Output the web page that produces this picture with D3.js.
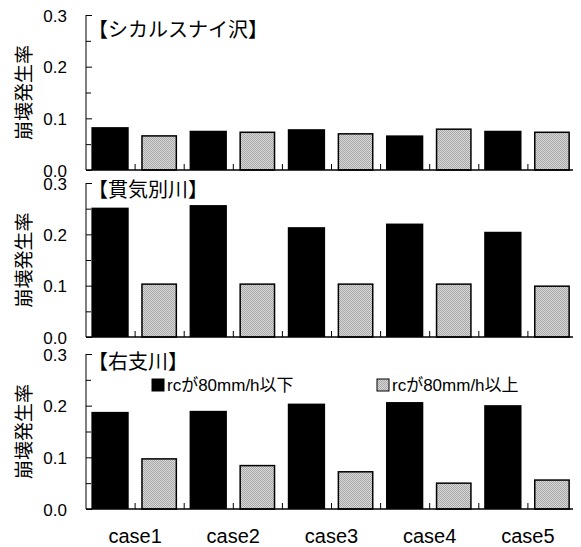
<!DOCTYPE html>
<html>
<head>
<meta charset="utf-8">
<script src="https://cdn.jsdelivr.net/npm/d3@7"></script>
<style>
  html, body { margin: 0; padding: 0; background: #fff; }
  svg { display: block; }
  text { font-family: "Liberation Sans", Arial, "Noto Sans CJK JP", sans-serif; fill: #000; }
  .jp { font-family: "Noto Sans CJK JP", "Liberation Sans", sans-serif; }
</style>
</head>
<body>
<script>
// ---- data ----
const cases = ["case1", "case2", "case3", "case4", "case5"];
const seriesNames = ["rcが80mm/h以下", "rcが80mm/h以上"];
const panelTitles = ["【シカルスナイ沢】", "【貫気別川】", "【右支川】"];
const yAxisTitle = "崩壊発生率";
const yTickValues = [0.0, 0.1, 0.2, 0.3];
const yTickLabels = ["0.0", "0.1", "0.2", "0.3"];

const shikarusunaiBelow = [0.083, 0.076, 0.079, 0.067, 0.076];
const shikarusunaiAbove = [0.066, 0.073, 0.070, 0.079, 0.073];
const nukibetsuBelow   = [0.252, 0.257, 0.214, 0.221, 0.205];
const nukibetsuAbove   = [0.103, 0.103, 0.103, 0.103, 0.099];
const ushiBelow        = [0.188, 0.190, 0.204, 0.207, 0.201];
const ushiAbove        = [0.097, 0.084, 0.072, 0.050, 0.056];

const panelData = [
  [shikarusunaiBelow, shikarusunaiAbove],
  [nukibetsuBelow, nukibetsuAbove],
  [ushiBelow, ushiAbove]
];

// ---- layout ----
const W = 581, H = 547;
const xLeft = 86, xRight = 577, axisEnd = 573;
const panels = [
  { top: 15, bottom: 170 },
  { top: 183, bottom: 337 },
  { top: 354, bottom: 509 }
];

const svg = d3.select("body").append("svg").attr("width", W).attr("height", H);

const defs = svg.append("defs");
const pat = defs.append("pattern").attr("id", "stipple")
  .attr("width", 2).attr("height", 2).attr("patternUnits", "userSpaceOnUse");
pat.append("rect").attr("width", 2).attr("height", 2).attr("fill", "#d8d8d8");
pat.append("rect").attr("x", 0).attr("y", 0).attr("width", 1).attr("height", 1).attr("fill", "#a8a8a8");
pat.append("rect").attr("x", 1).attr("y", 1).attr("width", 1).attr("height", 1).attr("fill", "#a8a8a8");

const xGroup = d3.scaleBand().domain(cases).range([xLeft, xRight]).padding(0);
const xInner = d3.scaleBand().domain([0, 1]).range([0, xGroup.bandwidth()]).padding(0);
const slot = xInner.bandwidth();

panels.forEach((p, pi) => {
  const g = svg.append("g");
  const y = d3.scaleLinear().domain([0, 0.3]).range([p.bottom, p.top]);

  // bars
  panelData[pi].forEach((vals, si) => {
    const wBar = si === 0 ? slot * 0.76 : slot * 0.70;
    g.selectAll(null).data(vals).enter().append("rect")
      .attr("x", (d, i) => xGroup(cases[i]) + xInner(si) + (slot - wBar) / 2 - 0.5)
      .attr("y", d => y(d))
      .attr("width", wBar)
      .attr("height", d => y(0) - y(d))
      .attr("fill", si === 0 ? "#000" : "url(#stipple)")
      .attr("stroke", "#000")
      .attr("stroke-width", si === 0 ? 0 : 1.5);
  });

  // y axis (ticks inward)
  const yAxis = d3.axisLeft(y).tickValues(yTickValues)
    .tickFormat((d, i) => yTickLabels[i]).tickSize(-6).tickPadding(19);
  const ya = g.append("g").attr("transform", `translate(${xLeft},0)`).call(yAxis);
  ya.select(".domain").remove();
  ya.selectAll(".tick line").attr("stroke", "#000").attr("stroke-width", 1);
  ya.selectAll(".tick text").style("font-size", "17px").attr("dy", "0.36em");
  // minor ticks
  const minor = d3.axisLeft(y).tickValues([0.05, 0.15, 0.25]).tickFormat("").tickSize(-5);
  const ym = g.append("g").attr("transform", `translate(${xLeft},0)`).call(minor);
  ym.select(".domain").remove();
  ym.selectAll(".tick line").attr("stroke", "#000");
  g.append("line").attr("x1", xLeft).attr("x2", xLeft)
    .attr("y1", p.top).attr("y2", p.bottom).attr("stroke", "#000").attr("stroke-width", 1);

  // x axis: ticks at every bar slot boundary, pointing up
  const boundaries = [];
  cases.forEach(c => { boundaries.push(xGroup(c) + slot); boundaries.push(xGroup(c) + 2 * slot); });
  boundaries.pop();
  g.selectAll(null).data(boundaries).enter().append("line")
    .attr("x1", d => d).attr("x2", d => d)
    .attr("y1", p.bottom).attr("y2", p.bottom - 6)
    .attr("stroke", "#000").attr("stroke-width", 1);
  g.append("line").attr("x1", xLeft).attr("x2", axisEnd)
    .attr("y1", p.bottom).attr("y2", p.bottom)
    .attr("stroke", "#000").attr("stroke-width", 1.5);

  // y title
  g.append("text").attr("class", "jp")
    .attr("transform", `translate(31,${(p.top + p.bottom) / 2}) rotate(-90)`)
    .attr("text-anchor", "middle")
    .style("font-size", "19px")
    .text(yAxisTitle);

  // panel title
  const titleY = [37, 197, 369][pi];
  g.append("text").attr("class", "jp")
    .attr("x", 88).attr("y", titleY)
    .style("font-size", "20px")
    .text(panelTitles[pi]);
});

// legend (in bottom panel)
const legendItems = [
  { x: 152, name: seriesNames[0], fill: "#000" },
  { x: 377, name: seriesNames[1], fill: "url(#stipple)" }
];
const lg = svg.append("g");
legendItems.forEach(it => {
  lg.append("rect").attr("x", it.x).attr("y", 379).attr("width", 12).attr("height", 12)
    .attr("fill", it.fill).attr("stroke", "#000").attr("stroke-width", 1);
  lg.append("text").attr("x", it.x + 15).attr("y", 391)
    .style("font-size", "17px").text(it.name);
});

// category labels
svg.append("g").selectAll("text").data(cases).enter().append("text")
  .attr("x", d => xGroup(d) + xGroup.bandwidth() / 2)
  .attr("y", 543)
  .attr("text-anchor", "middle")
  .style("font-size", "20px")
  .text(d => d);
</script>
</body>
</html>
